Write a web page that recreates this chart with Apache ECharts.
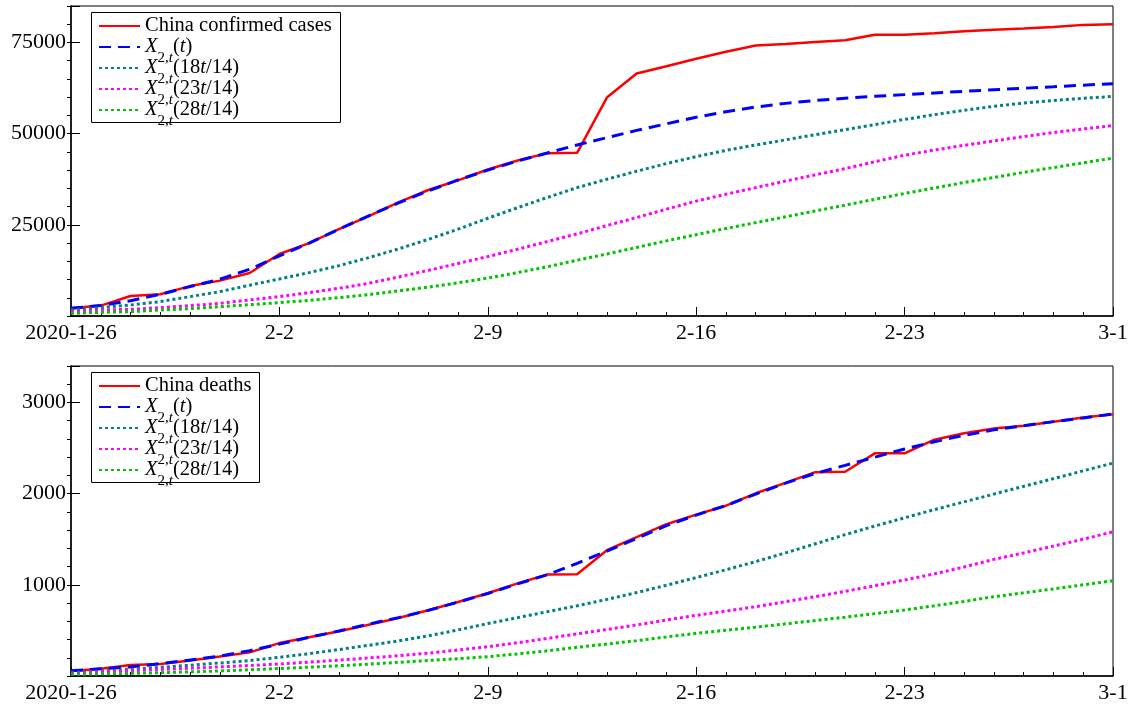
<!DOCTYPE html>
<html><head><meta charset="utf-8">
<script src="https://cdn.jsdelivr.net/npm/echarts@6/dist/echarts.min.js"></script>
<style>html,body{margin:0;padding:0;background:#fff}#c{width:1131px;height:707px}</style>
</head><body><div id="c"></div>
<script>
// ---- data ----
const dates = ['1-26','1-27','1-28','1-29','1-30','1-31','2-1','2-2','2-3','2-4','2-5','2-6','2-7','2-8','2-9','2-10','2-11','2-12','2-13','2-14','2-15','2-16','2-17','2-18','2-19','2-20','2-21','2-22','2-23','2-24','2-25','2-26','2-27','2-28','2-29','3-1'];
const xTickLabels = ['2020-1-26','2-2','2-9','2-16','2-23','3-1'];

const confirmed = [2100,2850,5500,5974,8200,9700,11791,17000,20000,23800,27400,31161,34546,37198,40171,42638,44653,44730,59900,66500,68500,70548,72436,74185,74576,75100,75600,77100,77150,77500,78064,78497,78824,79251,79824,80026];
const modelC   = [2100,2900,4200,5950,8060,10070,12820,16480,19960,23810,27470,31000,34300,37300,40000,42500,44700,46900,48900,50900,52700,54500,56000,57300,58300,59100,59700,60250,60700,61150,61600,62050,62450,62850,63300,63700];
const c18 = [1650,2290,3020,3940,5310,6680,8450,10150,11900,13800,16000,18400,21000,23800,26800,29700,32500,35200,37500,39700,41800,43700,45400,46900,48300,49700,51100,52500,53900,55200,56400,57500,58400,59100,59700,60200];
const c23 = [1190,1650,1830,2290,2840,3480,4400,5310,6410,7600,8970,10700,12500,14400,16300,18300,20400,22500,24800,27000,29300,31500,33400,35200,37000,38700,40400,42300,44100,45500,46800,48000,49200,50300,51300,52200];
const c28 = [730,1010,1190,1650,2010,2560,3110,3660,4300,5030,5860,6900,7900,9100,10400,11900,13500,15300,17000,18800,20600,22300,24000,25600,27200,28800,30400,32000,33600,35100,36600,38000,39400,40700,42000,43300];

const deaths = [56,80,120,132,170,213,259,361,425,490,563,636,722,811,908,1016,1113,1117,1380,1523,1665,1770,1868,2004,2118,2236,2240,2442,2442,2592,2663,2715,2744,2788,2835,2870];
const modelD = [58,80,100,135,175,219,277,350,424,493,570,640,720,810,905,1010,1110,1236,1370,1510,1650,1765,1870,1995,2115,2222,2310,2400,2490,2570,2640,2700,2745,2790,2830,2873];
const d18 = [36,55,75,95,118,143,170,205,245,290,337,385,440,505,575,640,705,770,840,915,995,1080,1165,1255,1350,1450,1550,1645,1735,1825,1910,1995,2080,2165,2250,2335];
const d23 = [28,45,58,72,85,100,115,132,152,174,198,222,250,285,321,365,412,462,510,560,615,665,712,760,815,870,928,990,1053,1120,1195,1279,1350,1425,1500,1582];
const d28 = [18,23,29,36,45,56,68,82,97,113,130,150,170,190,212,242,276,315,350,388,428,468,502,536,572,608,645,684,724,770,818,870,912,955,1000,1045];

const yTicksTop = [25000,50000,75000];
const yTicksBottom = [1000,2000,3000];

// ---- chart ----
const FONT = 'Liberation Serif';
const chart = echarts.init(document.getElementById('c'), null, {renderer:'canvas'});
const toXY = arr => arr.map((v,i)=>[i,v]);

const names = {
  m: 'X2t(t)', a: 'X2t(18t/14)', b: 'X2t(23t/14)', c: 'X2t(28t/14)'
};
function legendFmt(name){
  if (name.indexOf('X2t(') !== 0) return name;
  const inner = name.slice(4, -1).replace('t', '{i|t}');
  return '{i|X}{s|2,}{si|t}(' + inner + ')';
}
const styles = {
  red:   {color:'#ff0000', width:2.5, type:'solid'},
  blue:  {color:'#0000ff', width:3, type:[12,7]},
  teal:  {color:'#008080', width:3, type:[3,3]},
  mag:   {color:'#ff00ff', width:3, type:[3,3]},
  green: {color:'#00c400', width:3, type:[3,3]}
};
function mk(name, arr, g, st){
  return {
    name, type:'line', xAxisIndex:g, yAxisIndex:g*2, data:toXY(arr),
    symbol:'none', showSymbol:false, animation:false,
    lineStyle:{color:st.color, width:st.width, type:st.type},
    itemStyle:{color:st.color}
  };
}
function xAxis(g){
  return {
    type:'value', gridIndex:g, min:0, max:dates.length-1, interval:7,
    axisLine:{show:true, onZero:false, lineStyle:{color:'#000', width:1.5}},
    axisTick:{show:true, inside:true, length:9, lineStyle:{color:'#000', width:1}},
    minorTick:{show:true, splitNumber:7, length:4, lineStyle:{color:'#000', width:1}},
    axisLabel:{show:true, margin:6, fontFamily:FONT, fontSize:22, color:'#000',
      formatter: v => xTickLabels[Math.round(v/7)] || ''},
    splitLine:{show:false}, minorSplitLine:{show:false}
  };
}
function yMajor(g, max, ticks){
  return {
    type:'value', gridIndex:g, min:0, max:max, interval:ticks[0],
    axisLine:{show:true, onZero:false, lineStyle:{color:'#000', width:1.5}},
    axisTick:{show:true, inside:true, length:9, lineStyle:{color:'#000', width:1}},
    axisLabel:{show:true, margin:5, fontFamily:FONT, fontSize:22, color:'#000',
      formatter: v => ticks.indexOf(v) >= 0 ? String(v) : ''},
    splitLine:{show:false}
  };
}
function yMinor(g, max, step){
  return {
    type:'value', gridIndex:g, min:0, max:max, interval:step,
    axisLine:{show:false}, axisLabel:{show:false}, splitLine:{show:false},
    axisTick:{show:true, inside:true, length:4, lineStyle:{color:'#000', width:1}}
  };
}
const legendText = {
  fontFamily:FONT, fontSize:20.5, color:'#000', lineHeight:46,
  rich:{
    i:{fontFamily:FONT, fontSize:20.5, fontStyle:'italic', color:'#000'},
    s:{fontFamily:FONT, fontSize:15, lineHeight:15, padding:[27,0,0,0], verticalAlign:'top', color:'#000'},
    si:{fontFamily:FONT, fontSize:15, lineHeight:15, padding:[27,0,0,0], verticalAlign:'top', fontStyle:'italic', color:'#000'}
  }
};
function legend(top, first){
  return {
    orient:'vertical', left:98, top:top, padding:0, itemWidth:41, itemHeight:12,
    itemGap:-25, itemTextGap:6, selectedMode:false, z:5,
    itemStyle:{opacity:0},
    data:[first, names.m, names.a, names.b, names.c],
    formatter: legendFmt, textStyle: legendText
  };
}

const option = {
  backgroundColor:'#fff',
  animation:false,
  grid:[
    {left:71, top:6, width:1042, height:310, show:true, borderColor:'#000', borderWidth:1, backgroundColor:'transparent'},
    {left:71, top:366, width:1042, height:310, show:true, borderColor:'#000', borderWidth:1, backgroundColor:'transparent'}
  ],
  xAxis:[xAxis(0), xAxis(1)],
  yAxis:[yMajor(0, 85000, yTicksTop), yMinor(0, 85000, 5000), yMajor(1, 3400, yTicksBottom), yMinor(1, 3400, 200)],
  legend:[legend(3, 'China confirmed cases'), legend(363, 'China deaths')],
  graphic:[
    {type:'rect', z:3, shape:{x:91.5, y:12.5, width:249, height:110}, style:{fill:'#fff', stroke:'#000', lineWidth:1}},
    {type:'rect', z:3, shape:{x:91.5, y:372.5, width:168, height:110}, style:{fill:'#fff', stroke:'#000', lineWidth:1}}
  ],
  series:[
    mk('China confirmed cases', confirmed, 0, styles.red),
    mk(names.m, modelC, 0, styles.blue),
    mk(names.a, c18, 0, styles.teal),
    mk(names.b, c23, 0, styles.mag),
    mk(names.c, c28, 0, styles.green),
    mk('China deaths', deaths, 1, styles.red),
    mk(names.m, modelD, 1, styles.blue),
    mk(names.a, d18, 1, styles.teal),
    mk(names.b, d23, 1, styles.mag),
    mk(names.c, d28, 1, styles.green)
  ]
};
chart.setOption(option);
</script></body></html>
